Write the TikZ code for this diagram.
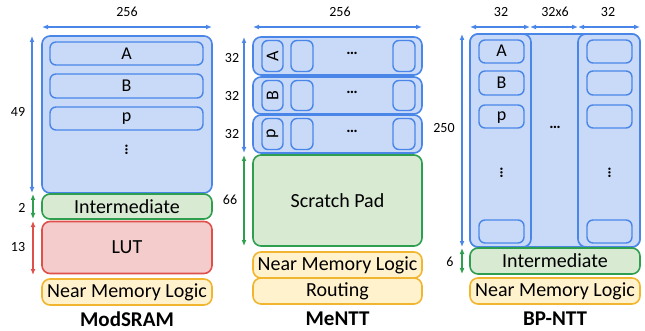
\documentclass[tikz,border=0pt]{standalone}
\usepackage{fontspec}
\setmainfont{Carlito}
\usetikzlibrary{arrows.meta}
\definecolor{bfill}{HTML}{C9DAF8}
\definecolor{bline}{HTML}{4A86E8}
\definecolor{gfill}{HTML}{D9EAD3}
\definecolor{gline}{HTML}{2E9E4F}
\definecolor{rfill}{HTML}{F4CCCC}
\definecolor{rline}{HTML}{E0504A}
\definecolor{yfill}{HTML}{FFF2CC}
\definecolor{yline}{HTML}{F1B530}
\tikzset{
  blk/.style={rounded corners=8pt, line width=1.6pt, inner sep=0pt},
  bluebox/.style={blk, draw=bline, fill=bfill},
  greenbox/.style={blk, draw=gline, fill=gfill},
  redbox/.style={blk, draw=rline, fill=rfill},
  yellowbox/.style={blk, draw=yline, fill=yfill},
  inbox/.style={rounded corners=6pt, line width=1.4pt, draw=bline, fill=bfill},
  lbl/.style={font=\fontsize{20}{20}\selectfont},
  letter/.style={font=\fontsize{18}{18}\selectfont, inner sep=0pt},
  dots/.style={font=\fontsize{16}{16}\selectfont\bfseries, inner sep=0pt},
  dim/.style={font=\fontsize{14}{14}\selectfont},
  ttl/.style={font=\fontsize{21}{21}\selectfont\bfseries},
  dimarrow/.style={{Latex[length=6pt,width=5pt]}-{Latex[length=6pt,width=5pt]}, line width=1.4pt},
}
\begin{document}
\begin{tikzpicture}[x=1pt,y=-1pt]
\useasboundingbox (0,0) rectangle (645,331);
% ================= ModSRAM =================
\draw[bluebox] (42,36) rectangle (212,193);
\coordinate (ms-tl) at (42,27); \coordinate (ms-tr) at (212,27);
\draw[dimarrow, bline] (ms-tl) -- (ms-tr);
\node[dim] (ms-w) at (127,12) {256};
\draw[inbox] (50,42) rectangle (203,65);
\node[letter] (msA) at (126.5,53.5) {A};
\draw[inbox] (50,74) rectangle (203,98);
\node[letter] (msB) at (126.5,86) {B};
\draw[inbox] (50,107) rectangle (203,130);
\node[letter] (msp) at (126.5,119) {p};
\node[dots, rotate=90] (msdots) at (126.5,150) {…};
\node[greenbox, minimum width=170pt, minimum height=25pt, lbl] (msint) at (127,206.5) {Intermediate};
\node[redbox, minimum width=170pt, minimum height=52pt, lbl] (mslut) at (127,247.5) {LUT};
\node[yellowbox, minimum width=170pt, minimum height=26pt, lbl] (msnml) at (127,292) {Near Memory Logic};
\node[ttl] (mst) at (127,319) {ModSRAM};
\coordinate (ms-a1) at (32,36); \coordinate (ms-a2) at (32,193);
\draw[dimarrow, bline] (ms-a1) -- (ms-a2);
\node[dim] (ms49) at (18,112) {49};
\coordinate (ms-g1) at (33,194); \coordinate (ms-g2) at (33,219);
\draw[dimarrow, gline] (ms-g1) -- (ms-g2);
\node[dim] (ms2) at (22,208) {2};
\coordinate (ms-r1) at (33,221); \coordinate (ms-r2) at (33,275);
\draw[dimarrow, rline] (ms-r1) -- (ms-r2);
\node[dim] (ms13) at (18,247) {13};
% ================= MeNTT =================
\coordinate (me-tl) at (253,27); \coordinate (me-tr) at (422,27);
\draw[dimarrow, bline] (me-tl) -- (me-tr);
\node[dim] (me-w) at (340,12) {256};
\foreach \yt/\yb/\ch/\nm in {37/75/A/a, 77/114/B/b, 115/153/p/p}{
  \draw[bluebox] (253,\yt) rectangle (422,\yb);
  \draw[inbox] (262,\yt+3.5) rectangle (283,\yb-3.5);
  \node[letter, rotate=90] (me\nm) at (272.5,{(\yt+\yb)/2}) {\ch};
  \draw[inbox] (291,\yt+3.5) rectangle (313,\yb-3.5);
  \draw[inbox] (393,\yt+3.5) rectangle (415,\yb-3.5);
  \node[dots] (me\nm dots) at (352,{(\yt+\yb)/2-3}) {…};
}
\node[greenbox, minimum width=169pt, minimum height=91pt, lbl] (mesp) at (337.5,200.5) {Scratch Pad};
\node[yellowbox, minimum width=169pt, minimum height=26pt, lbl] (menml) at (337.5,265) {Near Memory Logic};
\node[yellowbox, minimum width=169pt, minimum height=26pt, lbl] (mert) at (337.5,291) {Routing};
\node[ttl] (met) at (337.5,319) {MeNTT};
\coordinate (me-a1) at (244,37); \coordinate (me-a2) at (244,153);
\draw[dimarrow, bline] (me-a1) -- (me-a2);
\node[dim] (me32a) at (232,58) {32};
\node[dim] (me32b) at (232,96) {32};
\node[dim] (me32c) at (232,134) {32};
\coordinate (me-g1) at (244,155); \coordinate (me-g2) at (244,246);
\draw[dimarrow, gline] (me-g1) -- (me-g2);
\node[dim] (me66) at (230,200) {66};
% ================= BP-NTT =================
\coordinate (bp-x1) at (470,27); \coordinate (bp-x2) at (530,27);
\coordinate (bp-x3) at (578,27); \coordinate (bp-x4) at (640,27);
\draw[dimarrow, bline] (bp-x1) -- (bp-x2);
\draw[dimarrow, bline] (bp-x2) -- (bp-x3);
\draw[dimarrow, bline] (bp-x3) -- (bp-x4);
\node[dim] (bp32a) at (501,12) {32};
\node[dim] (bp32x6) at (555,12) {32x6};
\node[dim] (bp32b) at (608,12) {32};
\draw[bluebox] (470,34) rectangle (640,247);
\draw[bluebox] (470,34) rectangle (531,247);
\draw[bluebox] (578,34) rectangle (640,247);
\foreach \yt/\yb in {40/63, 71/95, 105/128, 220/243}{
  \draw[inbox] (479,\yt) rectangle (524,\yb);
  \draw[inbox] (587,\yt) rectangle (632,\yb);
}
\node[letter] (bpA) at (501.5,51) {A};
\node[letter] (bpB) at (501.5,83) {B};
\node[letter] (bpp) at (501.5,118) {p};
\node[dots, rotate=90] (bpdl) at (501.5,173) {…};
\node[dots, rotate=90] (bpdr) at (609.5,173) {…};
\node[dots] (bpdm) at (555,127) {…};
\node[greenbox, minimum width=170pt, minimum height=26pt, lbl] (bpint) at (555,261) {Intermediate};
\node[yellowbox, minimum width=170pt, minimum height=26pt, lbl] (bpnml) at (555,291) {Near Memory Logic};
\node[ttl] (bpt) at (555,319) {BP-NTT};
\coordinate (bp-a1) at (462,34); \coordinate (bp-a2) at (462,247);
\draw[dimarrow, bline] (bp-a1) -- (bp-a2);
\node[dim] (bp250) at (444,128) {250};
\coordinate (bp-g1) at (462,248); \coordinate (bp-g2) at (462,274);
\draw[dimarrow, gline] (bp-g1) -- (bp-g2);
\node[dim] (bp6) at (450,262) {6};
\end{tikzpicture}
\end{document}
